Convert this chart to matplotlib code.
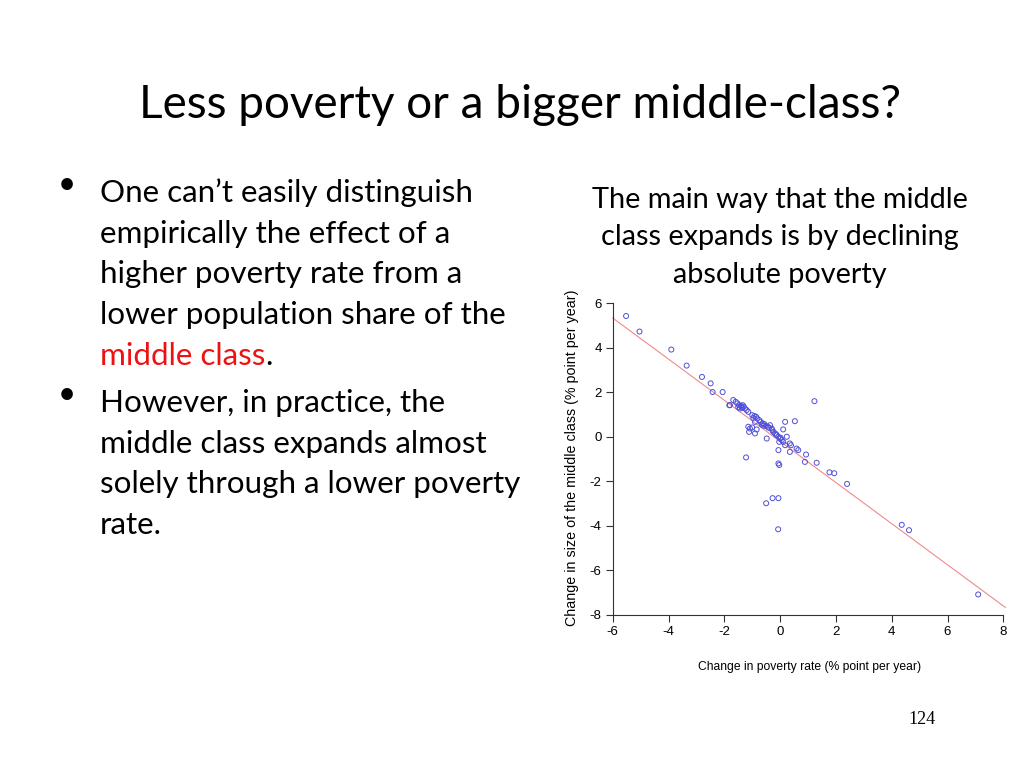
import matplotlib
matplotlib.use("Agg")
import matplotlib.pyplot as plt

# change in poverty rate (x) vs change in middle class share (y), % point per year
poverty_change = [
    -5.52, -5.04, -3.90, -3.35, -2.80, -2.49, -2.42, -2.06,
    -1.80, -1.68, -1.59, -1.53, -1.47, -1.41, -1.38, -1.34, -1.44, -1.26,
    -1.20, -1.14, -1.82, -1.50, -1.36, -1.30,
    -1.00, -0.92, -0.86, -0.82, -0.75, -0.70, -0.62, -0.57, -0.51, -0.90,
    -0.96, -0.66, -0.60, -0.44,
    -1.14, -1.08, -1.00, -1.11, -0.90, -0.84,
    -0.48, -0.36, -0.30, -0.24, -0.18, -0.12, -0.06, 0.00, 0.06, -0.03,
    0.11, 0.18, 0.11, 0.18, 0.53, 0.24, 0.35, 0.39, 0.59, 0.65,
    -0.06, 0.35, 0.93, 1.31, -1.22, -0.06, -0.03, 1.23, 0.89,
    -0.40, -0.28, -0.14, 0.02,
    1.77, 1.94, 2.40, -0.27, -0.06, -0.50, -0.07,
    4.36, 4.62, 7.10,
]
middle_change = [
    5.43, 4.73, 3.92, 3.20, 2.69, 2.40, 2.01, 2.01,
    1.42, 1.65, 1.57, 1.50, 1.42, 1.39, 1.35, 1.42, 1.27, 1.27,
    1.20, 1.12, 1.42, 1.33, 1.30, 1.35,
    0.97, 0.93, 0.90, 0.82, 0.75, 0.67, 0.60, 0.57, 0.48, 0.67,
    0.85, 0.55, 0.50, 0.45,
    0.45, 0.37, 0.42, 0.22, 0.15, 0.33,
    -0.08, 0.52, 0.37, 0.22, 0.15, 0.07, 0.00, -0.08, -0.15, -0.23,
    -0.23, -0.38, 0.33, 0.67, 0.70, 0.00, -0.30, -0.38, -0.53, -0.60,
    -0.60, -0.68, -0.80, -1.17, -0.93, -1.20, -1.27, 1.60, -1.13,
    0.40, 0.30, 0.10, -0.05,
    -1.60, -1.64, -2.12, -2.76, -2.76, -2.99, -4.16,
    -3.96, -4.20, -7.09,
]

# fitted line
fit_x = [-6.0, 8.07]
fit_y = [5.34, -7.67]

x_ticks = [-6, -4, -2, 0, 2, 4, 6, 8]
y_ticks = [-8, -6, -4, -2, 0, 2, 4, 6]

slide_font = ["Lato", "DejaVu Sans"]
chart_font = ["Liberation Sans", "DejaVu Sans"]

W, H = 1024, 768
fig = plt.figure(figsize=(10.24, 7.68), dpi=100)
fig.patch.set_facecolor("white")


def px(x, y):
    return x / W, 1 - y / H


# slide text
fig.text(*px(520, 118), "Less poverty or a bigger middle-class?", ha="center",
         va="baseline", fontsize=33, family=slide_font, color="black")

bullet1 = ["One can\u2019t easily distinguish",
           "empirically the effect of a",
           "higher poverty rate from a",
           "lower population share of the"]
bullet2 = ["However, in practice, the",
           "middle class expands almost",
           "solely through a lower poverty",
           "rate."]

fs = 22.6
step = 40.8
fig.text(*px(66.5, 184), "\u2022", fontsize=fs, family=slide_font,
         ha="center", va="center")
for i, s in enumerate(bullet1):
    fig.text(*px(100, 201.7 + i * step), s, fontsize=fs, family=slide_font,
             va="baseline")
red = fig.text(*px(100, 201.7 + 4 * step), "middle class", fontsize=fs,
               family=slide_font, va="baseline", color="#ee1111")
fig.canvas.draw()
bb = red.get_window_extent().transformed(fig.transFigure.inverted())
fig.text(bb.x1, px(0, 201.7 + 4 * step)[1], ".", fontsize=fs,
         family=slide_font, va="baseline")

fig.text(*px(66.5, 394.5), "\u2022", fontsize=fs, family=slide_font,
         ha="center", va="center")
for i, s in enumerate(bullet2):
    fig.text(*px(100, 411.7 + i * step), s, fontsize=fs, family=slide_font,
             va="baseline")

subtitle = ["The main way that the middle",
            "class expands is by declining",
            "absolute poverty"]
for i, s in enumerate(subtitle):
    fig.text(*px(780, 208 + i * 37.5), s, ha="center", va="baseline",
             fontsize=20.8, family=slide_font)

fig.text(*px(922, 724), "124", ha="center", va="baseline",
         fontsize=13, family=["Liberation Serif", "DejaVu Serif"])

# scatter chart
ax = fig.add_axes([612.7 / W, 1 - 614.7 / H,
                   (1003.3 - 612.7) / W * 14.1 / 14,
                   (614.7 - 303.3) / H * 14.1 / 14])
ax.set_xlim(-6, 8.1)
ax.set_ylim(-8, 6.1)
ax.plot(fit_x, fit_y, color="#f08a8a", lw=0.8, clip_on=False)
ax.scatter(poverty_change, middle_change, s=13, facecolors="none",
           edgecolors="#5050d8", linewidths=0.7, zorder=3)

for side in ["top", "right"]:
    ax.spines[side].set_visible(False)
ax.spines["left"].set_bounds(-8, 6)
ax.spines["bottom"].set_bounds(-6, 8)
for side in ["left", "bottom"]:
    ax.spines[side].set_color("#333333")
    ax.spines[side].set_linewidth(0.8)
ax.set_xticks(x_ticks)
ax.set_yticks(y_ticks)
ax.set_xticklabels([str(t) for t in x_ticks], family=chart_font, fontsize=9.5)
ax.set_yticklabels([str(t) for t in y_ticks], family=chart_font, fontsize=9.5)
ax.tick_params(length=5, width=0.8, color="#333333", pad=3)
ax.set_xlabel("Change in poverty rate (% point per year)", family=chart_font,
              fontsize=8.7, labelpad=17)
ax.set_ylabel("Change in size of the middle class (% point per year)",
              family=chart_font, fontsize=10.3, labelpad=8)

fig.savefig("out.png", dpi=100)
